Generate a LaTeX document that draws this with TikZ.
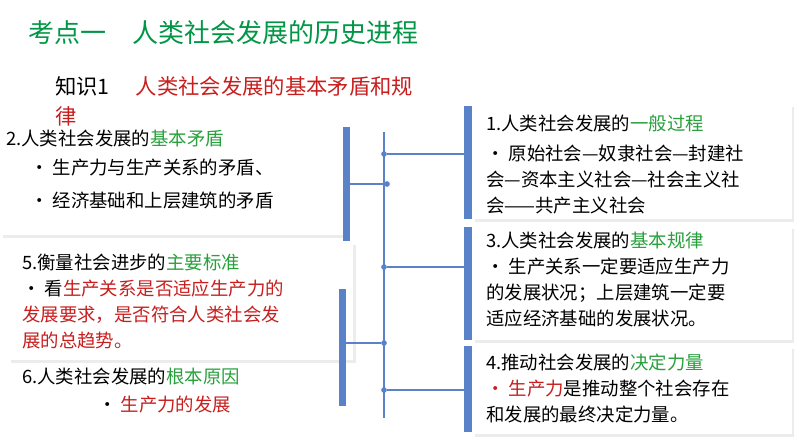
\documentclass[tikz,border=0pt]{standalone}
\usepackage{fontspec}
\setmainfont{Noto Sans CJK SC}
\usetikzlibrary{positioning,shadows}
\definecolor{titlegreen}{RGB}{0,150,70}
\definecolor{keygreen}{RGB}{40,160,60}
\definecolor{keyred}{RGB}{200,30,30}
\definecolor{barblue}{RGB}{90,130,200}
\newcommand{\gk}[1]{\textcolor{keygreen}{#1}}
\newcommand{\rk}[1]{\textcolor{keyred}{#1}}
\begin{document}
\begin{tikzpicture}[x=0.75pt,y=-0.75pt,
  card/.style={draw=none,fill=white,drop shadow={opacity=0.15,shadow xshift=2pt,shadow yshift=-2pt}},
  bar/.style={fill=barblue,draw=none},
  link/.style={barblue,line width=1.2pt},
  dot/.style={circle,fill=barblue,inner sep=1.5pt},
  txt/.style={anchor=north west,align=left,font=\fontsize{13.8}{19.5}\selectfont,inner sep=0pt}]
  \useasboundingbox (0,0) rectangle (794,447);
  % title
  \node[anchor=west,font=\fontsize{19.5}{22}\selectfont,text=titlegreen] (title) at (24,33) {考点一\quad 人类社会发展的历史进程};
  \node[txt,font=\fontsize{16}{23}\selectfont] (k1) at (55,76) {知识1\quad\ \rk{人类社会发展的基本矛盾和规}\\\rk{律}};
  % cards
  \path[card] (0,128) rectangle (343,235);
  \path[card] (472,104) rectangle (792,219);
  \path[card] (472,226) rectangle (792,340);
  \path[card] (472,346) rectangle (792,434);
  \path[card] (8,242) rectangle (353,360);
  % bars
  \path[bar] (343,127) rectangle (350,241);
  \path[bar] (339,289) rectangle (346,406);
  \path[bar] (464,106) rectangle (472,219);
  \path[bar] (464,227) rectangle (472,340);
  \path[bar] (464,346) rectangle (472,432);
  % spine
  \coordinate (top) at (384,132);
  \coordinate (bot) at (384,418);
  \draw[link] (top) -- (bot);
  \node[dot] (d1) at (384,154) {};
  \node[dot] (d2) at (387,184) {};
  \node[dot] (d3) at (384,267) {};
  \node[dot] (d4) at (384,343) {};
  \node[dot] (d5) at (384,390) {};
  \coordinate (r1) at (464,154);
  \coordinate (l1) at (350,184);
  \coordinate (r2) at (464,267);
  \coordinate (l2) at (346,343);
  \coordinate (r3) at (464,390);
  \draw[link] (d1) -- (r1);
  \draw[link] (d2) -- (l1);
  \draw[link] (d3) -- (r2);
  \draw[link] (d4) -- (l2);
  \draw[link] (d5) -- (r3);
  % texts
  \node[txt] (t2) at (6,130) {2.人类社会发展的\gk{基本矛盾}};
  \node[txt] (t2a) at (30,159) {• 生产力与生产关系的矛盾、};
  \node[txt] (t2b) at (30,192) {• 经济基础和上层建筑的矛盾};
  \node[txt] (t1) at (486,115) {1.人类社会发展的\gk{一般过程}\\[3pt] • 原始社会—奴隶社会—封建社\\会—资本主义社会—社会主义社\\会——共产主义社会};
  \node[txt] (t3) at (486,232) {3.人类社会发展的\gk{基本规律}\\ • 生产关系一定要适应生产力\\的发展状况；上层建筑一定要\\适应经济基础的发展状况。};
  \node[txt] (t4) at (486,354) {4.推动社会发展的\gk{决定力量}\\ \rk{• 生产力}是推动整个社会存在\\和发展的最终决定力量。};
  \node[txt] (t5) at (22,254) {5.衡量社会进步的\gk{主要标准}\\ • 看\rk{生产关系是否适应生产力的}\\\rk{发展要求，是否符合人类社会发}\\\rk{展的总趋势。}};
  \node[txt] (t6) at (22,368) {6.人类社会发展的\gk{根本原因}};
  \node[txt] (t6a) at (98,396) {• \rk{生产力的发展}};
\end{tikzpicture}
\end{document}
